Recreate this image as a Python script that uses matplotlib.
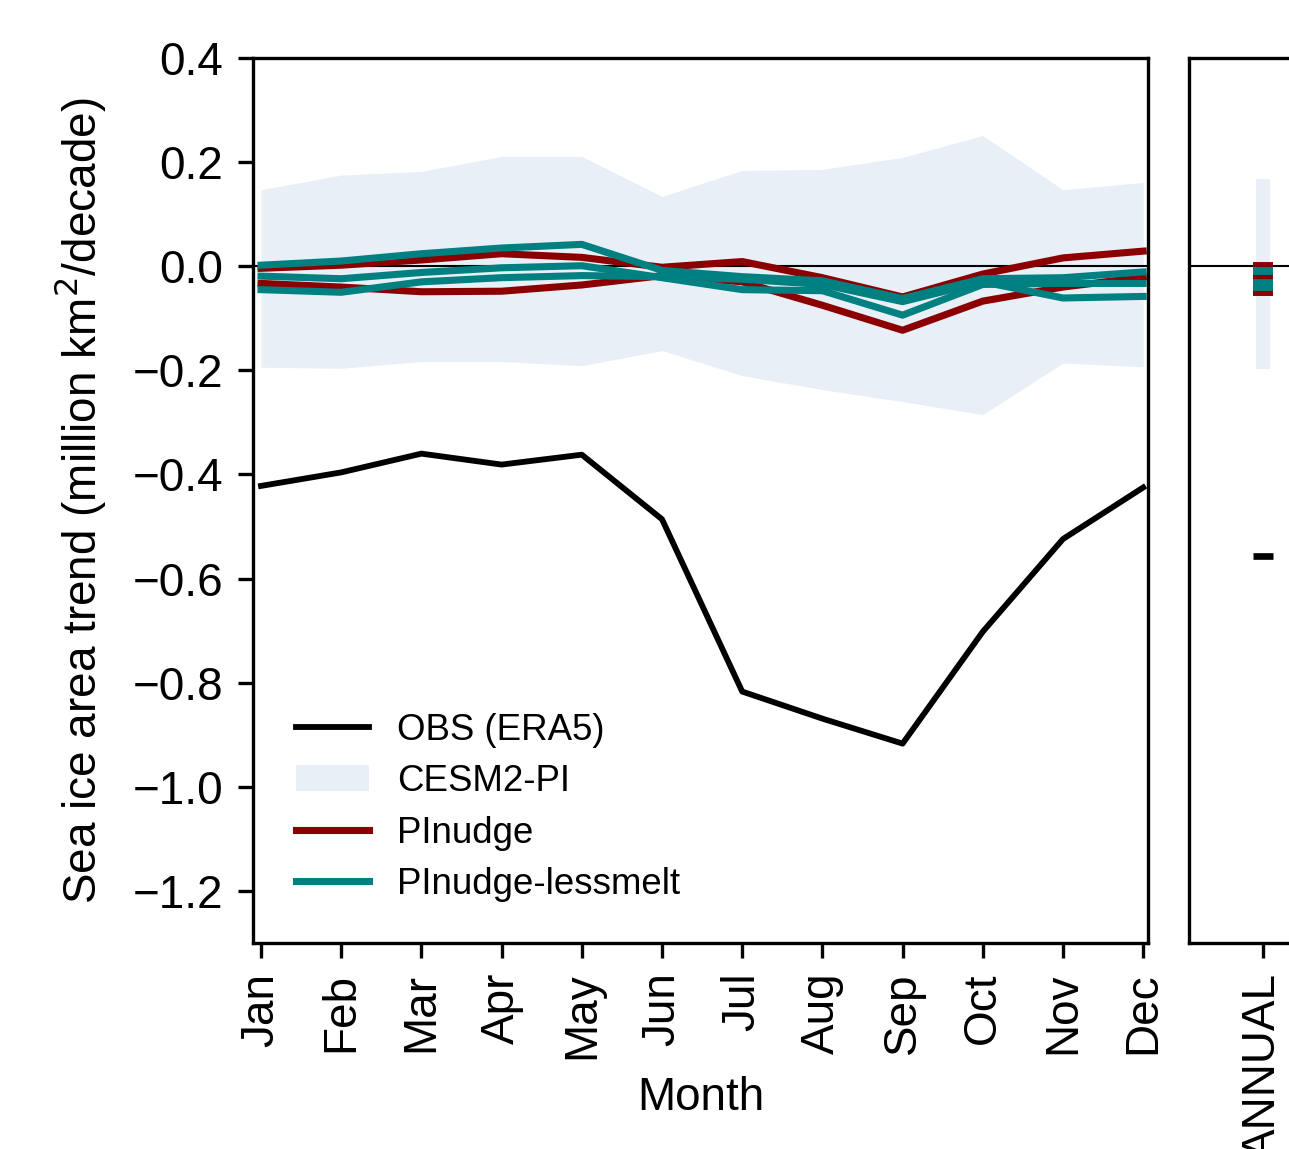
from __future__ import annotations

import matplotlib

matplotlib.use("Agg")
import matplotlib.pyplot as plt
import numpy as np

# ---- data (million km^2 / decade) -------------------------------------------
months = ["Jan", "Feb", "Mar", "Apr", "May", "Jun",
          "Jul", "Aug", "Sep", "Oct", "Nov", "Dec"]

obs_era5 = [-0.422, -0.396, -0.360, -0.381, -0.362, -0.486,
            -0.817, -0.869, -0.917, -0.702, -0.524, -0.425]

cesm2_pi_low = [-0.194, -0.196, -0.183, -0.183, -0.191, -0.162,
                -0.210, -0.237, -0.260, -0.285, -0.186, -0.193]
cesm2_pi_high = [0.147, 0.175, 0.182, 0.211, 0.211, 0.134,
                 0.184, 0.186, 0.209, 0.251, 0.147, 0.161]

pinudge_1 = [-0.004, 0.002, 0.012, 0.024, 0.017, -0.002,
             0.009, -0.022, -0.059, -0.015, 0.016, 0.029]
pinudge_2 = [-0.033, -0.040, -0.049, -0.048, -0.036, -0.018,
             -0.030, -0.075, -0.123, -0.067, -0.040, -0.021]

lessmelt_1 = [0.002, 0.010, 0.024, 0.035, 0.042, -0.008,
              -0.020, -0.028, -0.062, -0.024, -0.022, -0.011]
lessmelt_2 = [-0.019, -0.024, -0.012, -0.003, 0.001, -0.022,
              -0.045, -0.047, -0.094, -0.035, -0.033, -0.033]
lessmelt_3 = [-0.045, -0.050, -0.030, -0.022, -0.018, -0.020,
              -0.025, -0.035, -0.068, -0.030, -0.061, -0.058]

annual_label = ["ANNUAL"]
annual_obs = [-0.557]
annual_pi_low = [-0.197]
annual_pi_high = [0.168]
annual_pinudge = [0.001, -0.020, -0.049]
annual_lessmelt = [-0.010, -0.032, -0.039]

# ---- style ------------------------------------------------------------------
C_OBS = "black"
C_PI = "#e8eff6"
C_NUDGE = "darkred"
C_LESS = "teal"

DPI = 300
W_PX, H_PX = 1289, 1149

plt.rcParams["font.family"] = ["Liberation Sans", "DejaVu Sans"]
plt.rcParams["font.size"] = 11
plt.rcParams["axes.linewidth"] = 0.8
for ax_name in ("xtick", "ytick"):
    plt.rcParams[f"{ax_name}.major.size"] = 3.6
    plt.rcParams[f"{ax_name}.major.width"] = 0.8


def px_box(left: float, top: float, right: float, bottom: float) -> list[float]:
    """Pixel box of the reference -> figure fraction rect."""
    return [left / W_PX, 1 - bottom / H_PX, (right - left) / W_PX, (bottom - top) / H_PX]


fig = plt.figure(figsize=(W_PX / DPI, H_PX / DPI), dpi=DPI)
ax = fig.add_axes(px_box(253, 58, 1148, 943))
# the annual panel runs past the right edge of the figure, as in the reference
ax_ann = fig.add_axes(px_box(1189, 58, 1337, 943))

x = np.arange(len(months))

ax.axhline(0, color="black", linewidth=0.5, zorder=1)
ax.plot(x, obs_era5, color=C_OBS, linewidth=1.4, label="OBS (ERA5)", zorder=4)
ax.fill_between(x, cesm2_pi_low, cesm2_pi_high, color=C_PI, linewidth=0,
                label="CESM2-PI", zorder=0)
for i, run in enumerate([pinudge_1, pinudge_2]):
    ax.plot(x, run, color=C_NUDGE, linewidth=1.7,
            label="PInudge" if i == 0 else None, zorder=2)
for i, run in enumerate([lessmelt_1, lessmelt_2, lessmelt_3]):
    ax.plot(x, run, color=C_LESS, linewidth=1.7,
            label="PInudge-lessmelt" if i == 0 else None, zorder=3)

ax.set_xlim(-0.1, 11.06)
ax.set_ylim(-1.3, 0.4)
ax.set_xticks(x)
ax.set_xticklabels(months, rotation=90)
ax.set_yticks(np.arange(-1.2, 0.41, 0.2))
ax.set_xlabel("Month")
ax.set_ylabel(r"Sea ice area trend (million km$^2$/decade)", labelpad=6)
ax.legend(loc="lower left", bbox_to_anchor=(0.011, 0.009), frameon=False,
          fontsize=8.8, labelspacing=0.45, handlelength=2.0, handletextpad=0.75)

# annual panel
xa = np.arange(len(annual_label))
ax_ann.axhline(0, color="black", linewidth=0.5, zorder=1)
ax_ann.fill_between([xa[0] - 0.05, xa[0] + 0.05], annual_pi_low * 2, annual_pi_high * 2,
                    color=C_PI, linewidth=0, zorder=0)
ax_ann.hlines(annual_pinudge, xa[0] - 0.07, xa[0] + 0.07, color=C_NUDGE,
              linewidth=1.9, zorder=2)
ax_ann.hlines(annual_lessmelt, xa[0] - 0.07, xa[0] + 0.07, color=C_LESS,
              linewidth=1.9, zorder=3)
ax_ann.hlines(annual_obs, xa[0] - 0.07, xa[0] + 0.07, color=C_OBS,
              linewidth=1.6, zorder=4)
ax_ann.set_xlim(-0.5, 0.5)
ax_ann.set_ylim(-1.3, 0.4)
ax_ann.set_xticks(xa)
ax_ann.set_xticklabels(annual_label, rotation=90)
ax_ann.set_yticks([])

fig.savefig("out.png", dpi=DPI)
